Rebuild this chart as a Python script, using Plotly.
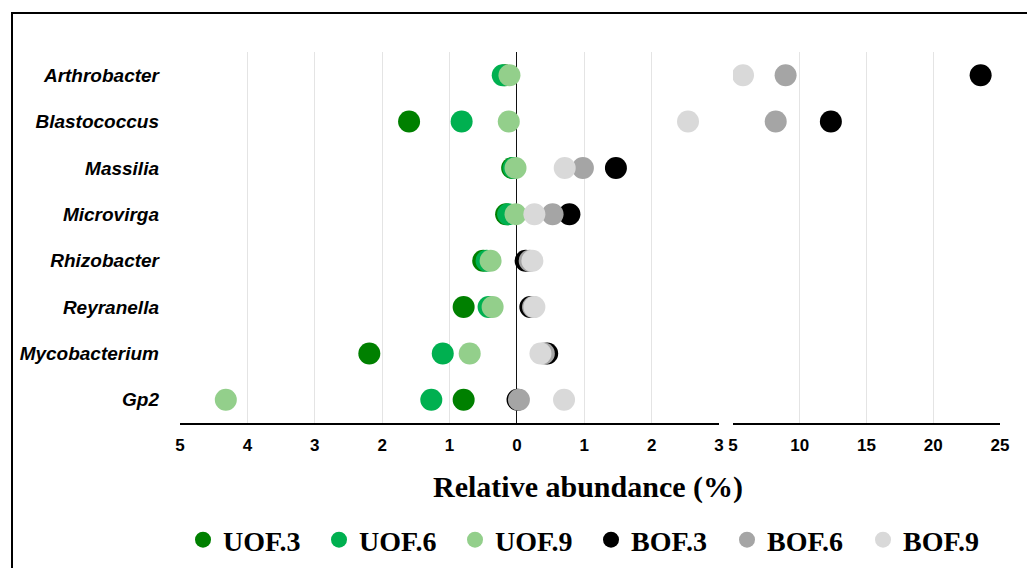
import plotly.graph_objects as go

genera = ["Arthrobacter", "Blastococcus", "Massilia", "Microvirga",
          "Rhizobacter", "Reyranella", "Mycobacterium", "Gp2"]

# relative abundance (%) — UOF series are plotted to the left of zero
uof3 = [0.18, 1.60, 0.07, 0.16, 0.50, 0.79, 2.19, 0.79]
uof6 = [0.21, 0.82, 0.05, 0.13, 0.45, 0.42, 1.10, 1.27]
uof9 = [0.11, 0.12, 0.02, 0.02, 0.39, 0.36, 0.70, 4.32]
# BOF series plotted to the right of zero
bof3 = [23.55, 12.33, 1.47, 0.78, 0.13, 0.20, 0.45, 0.01]
bof6 = [8.94, 8.20, 0.98, 0.53, 0.19, 0.24, 0.40, 0.03]
bof9 = [5.75, 2.54, 0.71, 0.26, 0.23, 0.26, 0.35, 0.70]

left_ticks = [-5, -4, -3, -2, -1, 0, 1, 2, 3]
left_ticktext = ["5", "4", "3", "2", "1", "0", "1", "2", "3"]
right_ticks = [5, 10, 15, 20, 25]

series = [
    ("UOF.3", uof3, -1, "#008000"),
    ("UOF.6", uof6, -1, "#00b050"),
    ("UOF.9", uof9, -1, "#93cf8b"),
    ("BOF.3", bof3, 1, "#000000"),
    ("BOF.6", bof6, 1, "#a5a5a5"),
    ("BOF.9", bof9, 1, "#d9d9d9"),
]

LEFT_MAX = 3
fig = go.Figure()
for name, vals, sign, color in series:
    xs = [sign * v for v in vals]
    lx = [x for x in xs if x <= LEFT_MAX]
    ly = [g for x, g in zip(xs, genera) if x <= LEFT_MAX]
    rx = [x for x in xs if x > LEFT_MAX]
    ry = [g for x, g in zip(xs, genera) if x > LEFT_MAX]
    fig.add_trace(go.Scatter(x=lx, y=ly, mode="markers", name=name,
                             marker=dict(size=22, color=color, line=dict(width=0)),
                             xaxis="x", yaxis="y", showlegend=True, legendgroup=name))
    fig.add_trace(go.Scatter(x=rx, y=ry, mode="markers", name=name,
                             marker=dict(size=22, color=color, line=dict(width=0)),
                             xaxis="x2", yaxis="y2", showlegend=False, legendgroup=name))

W, H = 1027, 568
ydom = [1 - 423 / H, 1 - 52 / H]
tickfont = dict(family="Liberation Sans, Arial", size=17, color="#000000", weight="bold")

fig.update_layout(
    width=W, height=H,
    margin=dict(l=0, r=0, t=0, b=0, autoexpand=False),
    paper_bgcolor="white", plot_bgcolor="white",
    xaxis=dict(domain=[180 / W, 719 / W], range=[-5, 3], tickvals=left_ticks,
               ticktext=left_ticktext, showgrid=True, gridcolor="#e4e4e4", gridwidth=1,
               zeroline=True, zerolinecolor="#111111", zerolinewidth=1.3,
               showline=True, linecolor="#000000", linewidth=2, ticks="",
               tickfont=tickfont, ticklabelstandoff=6, anchor="y"),
    xaxis2=dict(domain=[733 / W, 1000 / W], range=[5, 25], tickvals=right_ticks,
                showgrid=True, gridcolor="#e4e4e4", gridwidth=1, zeroline=False,
                showline=True, linecolor="#000000", linewidth=2, ticks="",
                tickfont=tickfont, ticklabelstandoff=6, anchor="y2"),
    yaxis=dict(domain=ydom, type="category", categoryorder="array", categoryarray=genera,
               range=[7.5, -0.5], showgrid=False, zeroline=False, showline=False, ticks="",
               tickfont=dict(family="Liberation Sans, Arial", size=19, color="#000000",
                             weight="bold", style="italic"),
               ticklabelstandoff=20, anchor="x"),
    yaxis2=dict(domain=ydom, type="category", categoryorder="array", categoryarray=genera,
                range=[7.5, -0.5], showgrid=False, zeroline=False, showline=False,
                showticklabels=False, ticks="", anchor="x2", matches="y"),
    legend=dict(orientation="h", x=183 / W, xanchor="left", y=1 - 540 / H, yanchor="middle",
                font=dict(family="Liberation Serif, Times New Roman", size=28,
                          color="#000000", weight="bold"),
                entrywidth=91, entrywidthmode="pixels", itemwidth=30,
                bgcolor="rgba(0,0,0,0)"),
    annotations=[dict(text="Relative abundance (%)", xref="paper", yref="paper",
                      x=588 / W, y=1 - 487 / H, xanchor="center", yanchor="middle",
                      showarrow=False,
                      font=dict(family="Liberation Serif, Times New Roman", size=30,
                                color="#000000", weight="bold"))],
    shapes=[dict(type="rect", xref="paper", yref="paper", x0=12 / W, y0=-0.05,
                 x1=1.05, y1=1 - 13 / H, line=dict(color="#000000", width=2),
                 fillcolor="rgba(0,0,0,0)", layer="above")],
)

fig.write_html("out.html")
